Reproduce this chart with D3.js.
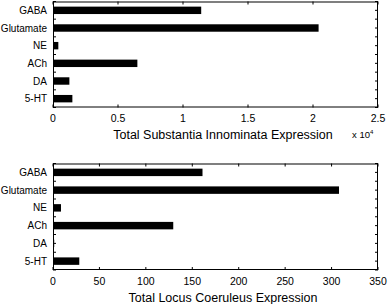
<!DOCTYPE html>
<html><head><meta charset="utf-8">
<script src="https://cdn.jsdelivr.net/npm/d3@7"></script>
<style>body{margin:0;background:#fff}svg{display:block}text{font-family:"Liberation Sans",Arial,sans-serif;fill:#000}</style>
</head><body><svg id="c" width="388" height="304"></svg>
<script>
const categories = ["GABA","Glutamate","NE","ACh","DA","5-HT"];
const siValues = [11400, 20430, 410, 6490, 1260, 1490];
const lcValues = [161, 308, 8.6, 129.5, 1.3, 28.3];
const siTicks = [0, 0.5, 1, 1.5, 2, 2.5];
const lcTicks = [0, 50, 100, 150, 200, 250, 300, 350];
const siTitle = "Total Substantia Innominata Expression";
const lcTitle = "Total Locus Coeruleus Expression";

const svg = d3.select("#c");
const left = 53, right = 378;

function panel(top, bottom, values, xmax, ticks, scaleDiv, title, exp) {
  const g = svg.append("g");
  const x = d3.scaleLinear().domain([0, xmax]).range([left, right]);
  const y = d3.scaleLinear().domain([0.5, categories.length + 0.5]).range([top, bottom]);
  const bw = (y(1) - y(0)) * 0.42;
  g.selectAll("rect.bar").data(values).join("rect")
    .attr("x", x(0)).attr("y", (d, i) => y(i + 1) - bw / 2)
    .attr("width", d => x(d) - x(0)).attr("height", bw).attr("fill", "#000");
  const yt = d3.range(0.5, categories.length + 0.51, 0.5);
  const tl = 3;
  yt.forEach(v => {
    g.append("line").attr("x1", left).attr("x2", left + tl).attr("y1", y(v)).attr("y2", y(v)).attr("stroke", "#000");
    g.append("line").attr("x1", right - tl).attr("x2", right).attr("y1", y(v)).attr("y2", y(v)).attr("stroke", "#000");
  });
  ticks.forEach(t => {
    const v = t * scaleDiv;
    g.append("line").attr("x1", x(v)).attr("x2", x(v)).attr("y1", bottom).attr("y2", bottom - tl).attr("stroke", "#000");
    g.append("line").attr("x1", x(v)).attr("x2", x(v)).attr("y1", top).attr("y2", top + tl).attr("stroke", "#000");
    g.append("text").attr("x", x(v)).attr("y", bottom + 14.8).attr("text-anchor", "middle")
      .attr("font-size", "10.5px").text(String(t));
  });
  categories.forEach((c, i) => {
    g.append("text").attr("x", left - 6).attr("y", y(i + 1) + 3.6).attr("text-anchor", "end")
      .attr("font-size", "10px").text(c);
  });
  g.append("rect").attr("x", left + 0.5).attr("y", top + 0.5).attr("width", right - left - 1).attr("height", bottom - top - 1)
    .attr("fill", "none").attr("stroke", "#000");
  g.append("text").attr("x", 223).attr("y", bottom + 31.5).attr("text-anchor", "middle")
    .attr("font-size", "12.5px").text(title);
  if (exp) {
    const t = g.append("text").attr("x", 352).attr("y", bottom + 30).attr("font-size", "9.5px");
    t.append("tspan").text("x 10");
    t.append("tspan").attr("dy", -4).attr("font-size", "6px").text(exp);
  }
}
panel(1.5, 107.5, siValues, 25000, siTicks, 10000, siTitle, "4");
panel(163.5, 270, lcValues, 350, lcTicks, 1, lcTitle, null);
</script></body></html>
